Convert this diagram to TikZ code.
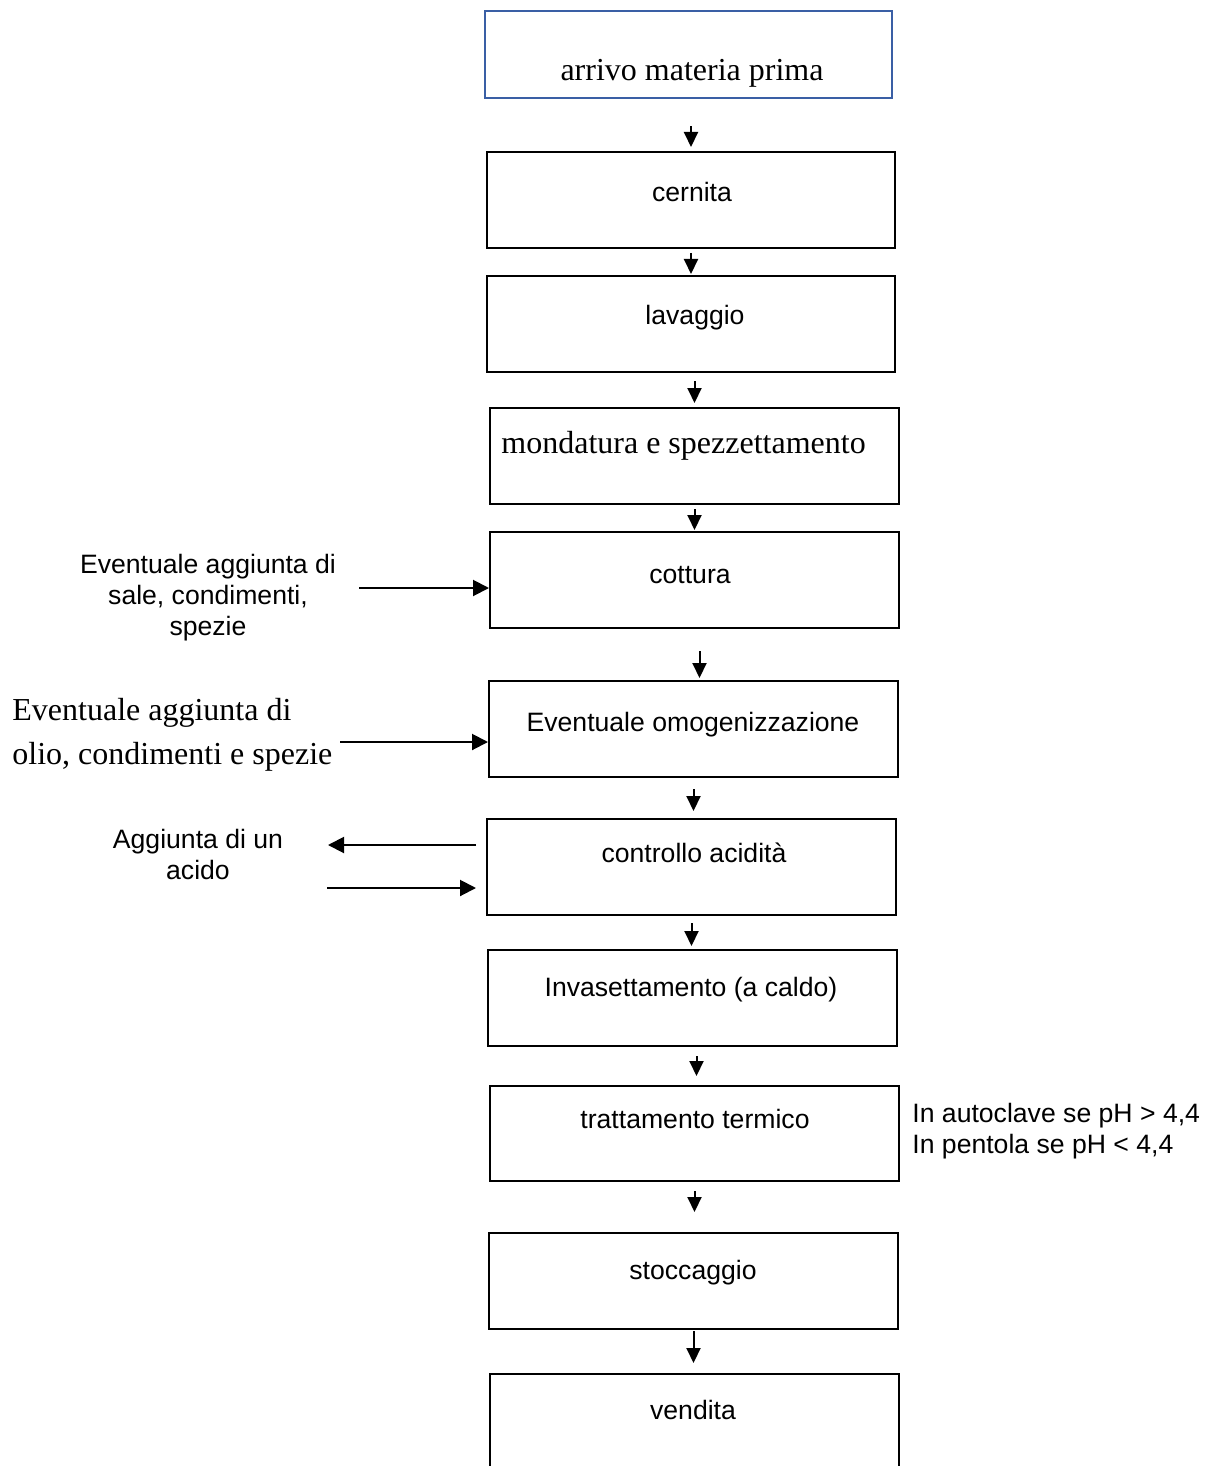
\documentclass[tikz,border=0pt]{standalone}
\usepackage{fontspec}
\setmainfont{Liberation Serif}
\setsansfont{Liberation Sans}
\usetikzlibrary{arrows.meta}
\definecolor{stepblue}{RGB}{58,95,165}
\begin{document}
\begin{tikzpicture}[x=0.5pt,y=-0.5pt,
  box/.style={draw=black,line width=1pt,minimum width=204pt,minimum height=48pt,inner sep=0pt},
  sanslbl/.style={font=\sffamily\fontsize{13.3}{15.5}\selectfont,inner sep=0pt},
  seriflbl/.style={font=\rmfamily\fontsize{16}{22}\selectfont,inner sep=0pt},
  flow/.style={line width=1pt,-{Triangle[length=7.5pt,width=7pt]}},
  side/.style={line width=1pt,-{Triangle[length=8pt,width=8pt]}}]
\useasboundingbox (0,0) rectangle (1208,1466);
\clip (0,0) rectangle (1208,1466);

% process steps
\node[box,draw=stepblue,line width=1.2pt,minimum width=203.5pt,minimum height=43.5pt] (arrivo) at (688.5,54.5) {};
\node[box] (cern)  at (691,200) {};
\node[box] (lav)   at (691,324) {};
\node[box,minimum width=204.5pt] (mond) at (694.5,456) {};
\node[box,minimum width=204.5pt] (cott) at (694.5,580) {};
\node[box,minimum width=204.5pt] (omog) at (693.5,729) {};
\node[box,minimum width=204.5pt] (ctrl) at (691.5,867) {};
\node[box,minimum width=204.5pt] (inv)  at (692.5,998) {};
\node[box,minimum width=204.5pt,minimum height=47.5pt] (tratt) at (694.5,1133.5) {};
\node[box,minimum width=204.5pt] (stocc) at (693.5,1281) {};
\node[box,minimum width=204.5pt] (vend)  at (694.5,1422) {};

% step captions
\node[seriflbl,anchor=base] (arrivo-t) at (692,81) {arrivo materia prima};
\node[sanslbl,anchor=base] (cern-t) at (692,202) {cernita};
\node[sanslbl,anchor=base] (lav-t) at (695,324) {lavaggio};
\node[seriflbl,anchor=base west] (mond-t) at (501,453) {mondatura e spezzettamento};
\node[sanslbl,anchor=base] (cott-t) at (690,583) {cottura};
\node[sanslbl,anchor=base] (omog-t) at (693,731) {Eventuale omogenizzazione};
\node[sanslbl,anchor=base] (ctrl-t) at (694,862) {controllo acidità};
\node[sanslbl,anchor=base] (inv-t) at (691,996) {Invasettamento (a caldo)};
\node[sanslbl,anchor=base] (tratt-t) at (695,1128) {trattamento termico};
\node[sanslbl,anchor=base] (stocc-t) at (693,1279) {stoccaggio};
\node[sanslbl,anchor=base] (vend-t) at (693,1419) {vendita};

% side notes (base = baseline of the last line)
\node[sanslbl,align=center,anchor=base] (sale) at (208,635) {Eventuale aggiunta di\\sale, condimenti,\\spezie};
\node[seriflbl,align=left,anchor=base west] (olio) at (12,764) {Eventuale aggiunta di\\olio, condimenti e spezie};
\node[sanslbl,align=center,anchor=base] (acido) at (198,879) {Aggiunta di un\\acido};
\node[sanslbl,align=left,anchor=base west] (ph) at (912,1153) {In autoclave se pH > 4,4\\In pentola se pH < 4,4};

% main flow
\draw[flow,shorten <=13.5pt,shorten >=2pt] (cern.north |- arrivo.south) -- (cern.north);
\draw[flow,shorten <=2pt,shorten >=0.5pt] (cern.south) -- (lav.north);
\draw[flow,shorten <=4pt,shorten >=2pt] (mond.north |- lav.south) -- (mond.north);
\draw[flow,shorten <=2pt,shorten >=0.5pt] (mond.south) -- (cott.north);
\draw[flow,shorten <=11pt,shorten >=1pt] ([xshift=2.5pt]cott.south) -- ([xshift=2.5pt]cott.south |- omog.north);
\draw[flow,shorten <=5.5pt,shorten >=3.5pt] (omog.south) -- (omog.south |- ctrl.north);
\draw[flow,shorten <=3.5pt,shorten >=1.5pt] (ctrl.south) -- (ctrl.south |- inv.north);
\draw[flow,shorten <=4.5pt,shorten >=4.5pt] ([xshift=1pt]tratt.north |- inv.south) -- ([xshift=1pt]tratt.north);
\draw[flow,shorten <=4.5pt,shorten >=10pt] (tratt.south) -- (tratt.south |- stocc.north);
\draw[flow,shorten <=0.5pt,shorten >=5pt] (stocc.south) -- (stocc.south |- vend.north);

% additions and acid check
\coordinate (in1) at (359,588);
\coordinate (in2) at (340,742);
\coordinate (out3) at (328,845);
\coordinate (in4) at (327,888);
\draw[side] (in1) -- (in1 -| cott.west);
\draw[side] (in2) -- (in2 -| omog.west);
\draw[side,shorten <=5pt] (out3 -| ctrl.west) -- (out3);
\draw[side,shorten >=5pt] (in4) -- (in4 -| ctrl.west);
\end{tikzpicture}
\end{document}
